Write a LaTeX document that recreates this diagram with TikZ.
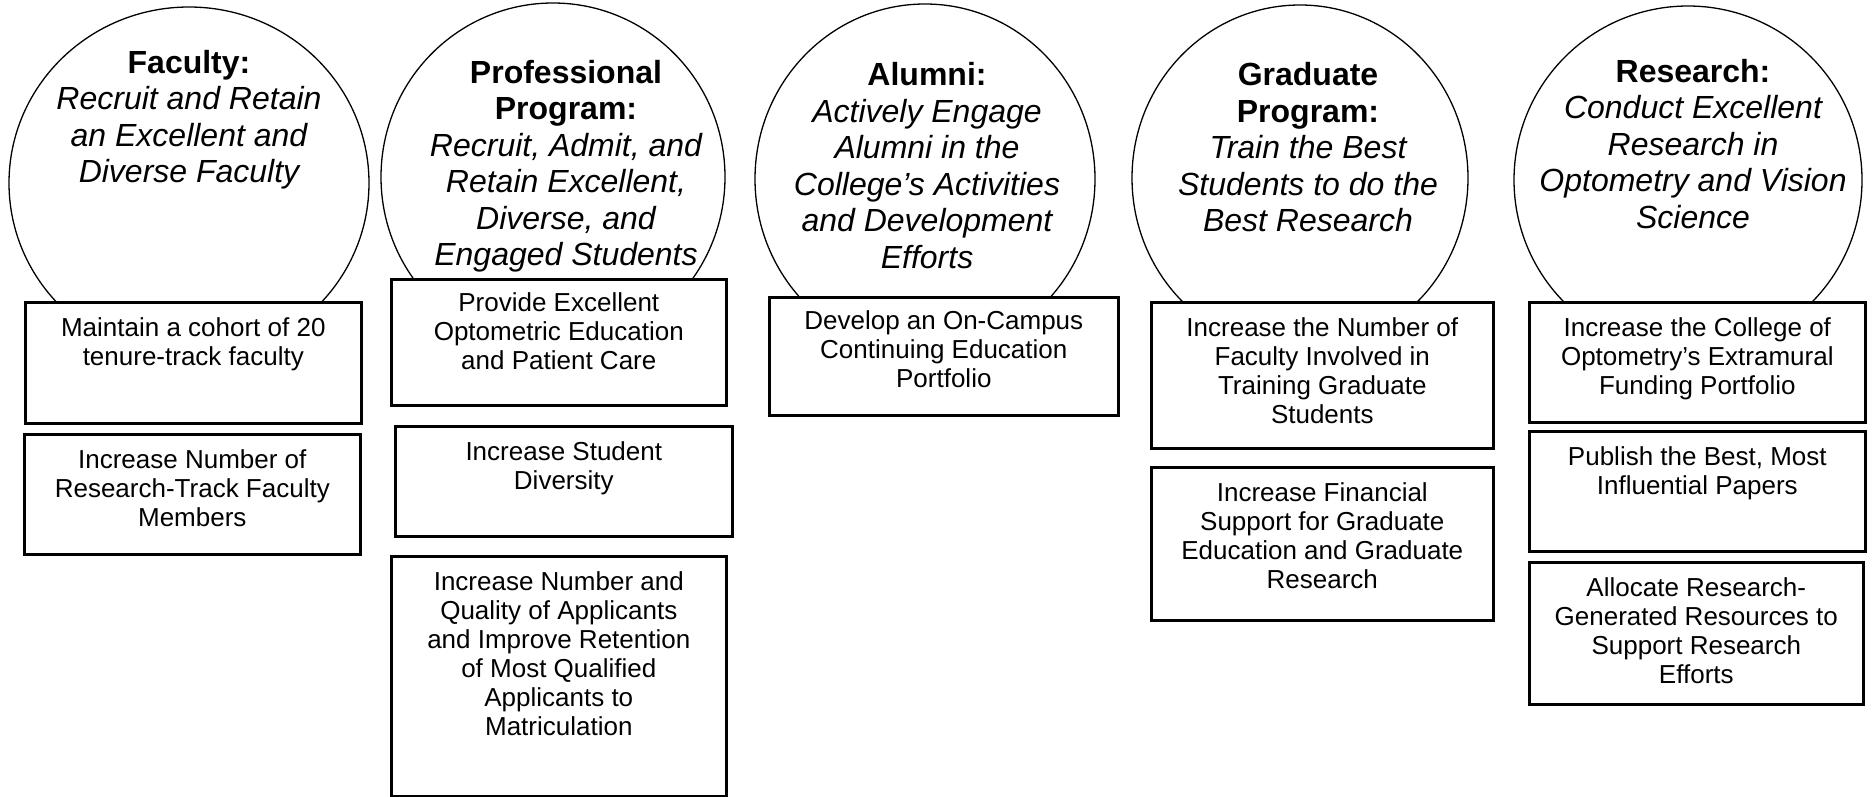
\documentclass[tikz,border=0pt]{standalone}
\usepackage{fontspec}
\setmainfont{Liberation Sans}
\usetikzlibrary{shapes.geometric}

\begin{document}
\begin{tikzpicture}[x=1pt,y=-1pt,
  goal/.style={draw,ellipse,line width=1.3pt,inner sep=0pt},
  task/.style={draw,fill=white,line width=2.6pt,anchor=north west,inner sep=0pt},
  tasktext/.style={anchor=north,align=center,inner sep=0pt,font=\fontsize{26}{29}\selectfont,execute at begin node=\strut},
  goaltext/.style={anchor=north,align=center,inner sep=0pt,font=\fontsize{32}{36.5}\selectfont\itshape,execute at begin node=\strut}]
\useasboundingbox (0,0) rectangle (1873,797);

\node[goal,minimum width=360pt,minimum height=352pt] (fac) at (189,183) {};
\node[goal,minimum width=344pt,minimum height=348pt] (prof) at (553,177) {};
\node[goal,minimum width=340pt,minimum height=350pt] (alum) at (925,179) {};
\node[goal,minimum width=336pt,minimum height=346pt] (grad) at (1300,178) {};
\node[goal,minimum width=348pt,minimum height=348pt] (res) at (1688,180) {};

\node[goaltext] (fact) at (189,50) {\textup{\textbf{Faculty:}}\\Recruit and Retain\\an Excellent and\\Diverse Faculty};
\node[goaltext] (proft) at (566,60) {\textup{\textbf{Professional}}\\\textup{\textbf{Program:}}\\Recruit, Admit, and\\Retain Excellent,\\Diverse, and\\Engaged Students};
\node[goaltext] (alumt) at (927,62.5) {\textup{\textbf{Alumni:}}\\Actively Engage\\Alumni in the\\College’s Activities\\and Development\\Efforts};
\node[goaltext] (gradt) at (1308,62.5) {\textup{\textbf{Graduate}}\\\textup{\textbf{Program:}}\\Train the Best\\Students to do the\\Best Research};
\node[goaltext] (rest) at (1693,59) {\textup{\textbf{Research:}}\\Conduct Excellent\\Research in\\Optometry and Vision\\Science};

\node[task,minimum width=336pt,minimum height=121pt] (f1) at (24,301) {};
\node[task,minimum width=336pt,minimum height=120pt] (f2) at (23,433) {};
\node[task,minimum width=335pt,minimum height=126pt] (p1) at (390,278) {};
\node[task,minimum width=337pt,minimum height=110pt] (p2) at (394,425) {};
\node[task,minimum width=335pt,minimum height=240pt] (p3) at (390,555) {};
\node[task,minimum width=349pt,minimum height=118pt] (a1) at (768,296) {};
\node[task,minimum width=342pt,minimum height=146pt] (g1) at (1150,301) {};
\node[task,minimum width=342pt,minimum height=153pt] (g2) at (1150,466) {};
\node[task,minimum width=336pt,minimum height=120pt] (r1) at (1528,301) {};
\node[task,minimum width=336pt,minimum height=120pt] (r2) at (1528,430) {};
\node[task,minimum width=334pt,minimum height=142pt] (r3) at (1528,561) {};

\node[tasktext] (f1t) at ([yshift=-16pt]f1.north) {Maintain a cohort of 20\\tenure-track faculty};
\node[tasktext] (f2t) at ([yshift=-16pt]f2.north) {Increase Number of\\Research-Track Faculty\\Members};
\node[tasktext] (p1t) at ([yshift=-14pt]p1.north) {Provide Excellent\\Optometric Education\\and Patient Care};
\node[tasktext] (p2t) at ([yshift=-16pt]p2.north) {Increase Student\\Diversity};
\node[tasktext] (p3t) at ([yshift=-16pt]p3.north) {Increase Number and\\Quality of Applicants\\and Improve Retention\\of Most Qualified\\Applicants to\\Matriculation};
\node[tasktext] (a1t) at ([yshift=-14pt]a1.north) {Develop an On-Campus\\Continuing Education\\Portfolio};
\node[tasktext] (g1t) at ([yshift=-16pt]g1.north) {Increase the Number of\\Faculty Involved in\\Training Graduate\\Students};
\node[tasktext] (g2t) at ([yshift=-16pt]g2.north) {Increase Financial\\Support for Graduate\\Education and Graduate\\Research};
\node[tasktext] (r1t) at ([yshift=-16pt]r1.north) {Increase the College of\\Optometry’s Extramural\\Funding Portfolio};
\node[tasktext] (r2t) at ([yshift=-16pt]r2.north) {Publish the Best, Most\\Influential Papers};
\node[tasktext] (r3t) at ([yshift=-16pt]r3.north) {Allocate Research-\\Generated Resources to\\Support Research\\Efforts};
\end{tikzpicture}
\end{document}
